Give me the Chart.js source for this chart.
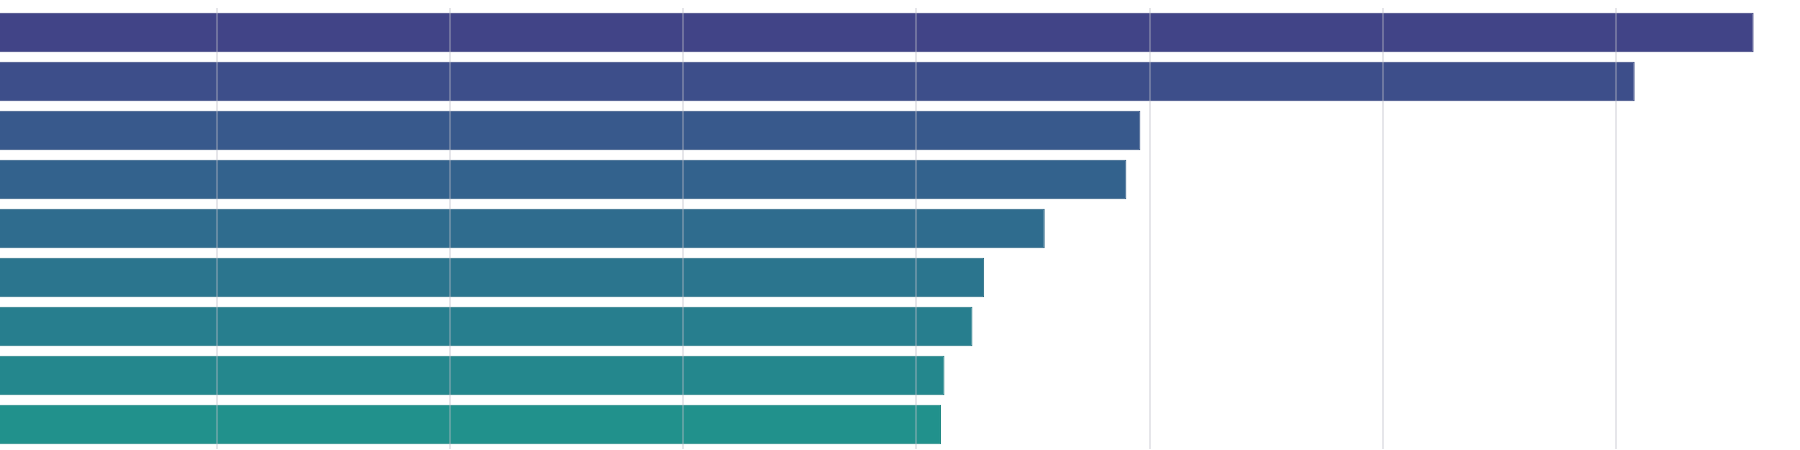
<!DOCTYPE html>
<html>
<head>
<meta charset="utf-8">
<script src="https://cdn.jsdelivr.net/npm/chart.js@4/dist/chart.umd.min.js"></script>
<style>
  html, body { margin: 0; padding: 0; background: #ffffff; }
  #wrap { width: 1800px; height: 450px; position: relative; }
</style>
</head>
<body>
<div id="wrap"><canvas id="barChart"></canvas></div>
<script>
const categories = ["Item 1", "Item 2", "Item 3", "Item 4", "Item 5", "Item 6", "Item 7", "Item 8", "Item 9"];
const values = [75.9, 70.8, 49.6, 49.0, 45.5, 42.9, 42.4, 41.2, 41.05];
const gridTicks = [10, 20, 30, 40, 50, 60, 70];

const barColors = ["#414487", "#3d4e8a", "#38598c", "#33628d", "#2f6c8e", "#2b758e", "#277e8e", "#24878d", "#21918c"];
const borderColors = ["#393c7c", "#36467f", "#325181", "#2d5a82", "#296383", "#266c83", "#227583", "#1f7e82", "#1d8781"];

function createBarChart(canvasId) {
  return new Chart(document.getElementById(canvasId), {
    type: "bar",
    data: {
      labels: categories,
      datasets: [
        {
          data: values,
          backgroundColor: barColors,
          borderColor: borderColors,
          borderWidth: 1,
          borderSkipped: false,
          categoryPercentage: 1.0,
          barPercentage: 0.81
        }
      ]
    },
    options: {
      indexAxis: "y",
      animation: false,
      responsive: true,
      maintainAspectRatio: false,
      layout: {
        padding: { top: 8, bottom: 1, left: 0, right: 0 }
      },
      plugins: {
        legend: { display: false },
        tooltip: { enabled: false }
      },
      scales: {
        x: {
          type: "linear",
          // the picture is cut just right of zero
          min: 0.695,
          max: 77.89,
          afterBuildTicks: scale => {
            scale.ticks = gridTicks.map(v => ({ value: v }));
          },
          ticks: { display: false },
          border: { display: false },
          grid: {
            z: 1,
            color: "rgba(190, 190, 200, 0.38)",
            lineWidth: 2,
            drawTicks: false
          }
        },
        y: {
          display: false
        }
      }
    }
  });
}

createBarChart("barChart");
</script>
</body>
</html>
